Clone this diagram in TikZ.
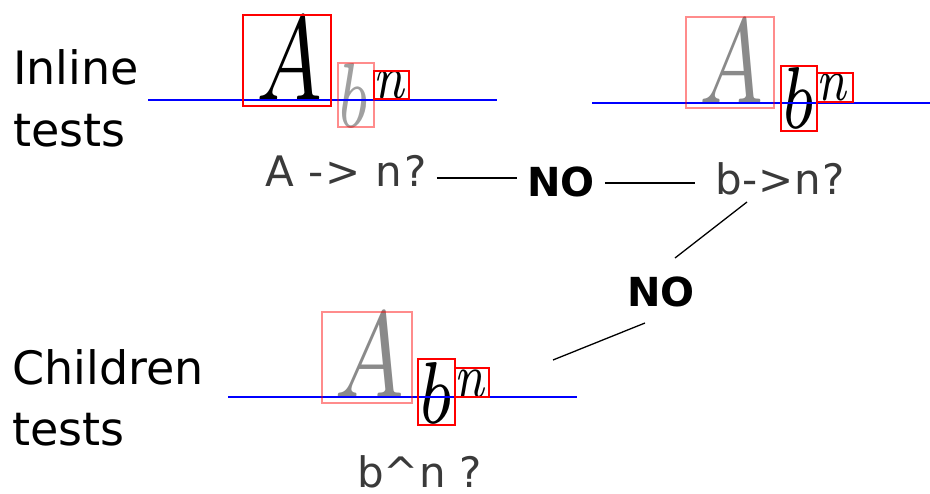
\documentclass[tikz,border=0pt]{standalone}
\usepackage{fontspec}
\setmainfont{DejaVu Sans}
\usetikzlibrary{calc}
\definecolor{txtgray}{HTML}{3A3A3A}
\definecolor{glyphgray}{HTML}{8A8A8A}
\definecolor{lightglyph}{HTML}{A0A0A0}
\newcommand{\gly}[3]{\resizebox{#1pt}{#2pt}{\fontsize{7}{8}\selectfont$#3$}}
\tikzset{
  lbl/.style={anchor=base west, inner sep=0pt, font=\fontsize{46}{46}\selectfont},
  qtxt/.style={anchor=base west, inner sep=0pt, text=txtgray, font=\fontsize{42}{42}\selectfont},
  notxt/.style={anchor=base west, inner sep=0pt, font=\fontsize{40}{40}\selectfont\bfseries},
  glyph/.style={inner sep=0pt},
  baseline line/.style={draw=blue, line width=2.2pt},
  redbox/.style={draw=red, line width=2pt},
  palebox/.style={draw=red, draw opacity=0.45, line width=2pt},
  conn/.style={draw=black, line width=1.3pt}
}
\begin{document}
\begin{tikzpicture}[x=1pt,y=-1pt]
\useasboundingbox (0,0) rectangle (930,494);

% labels
\node[lbl] (inl1) at (13,85) {Inline};
\node[lbl] (inl2) at (13,147) {tests};
\node[lbl] (ch1) at (12,385) {Children};
\node[lbl] (ch2) at (12,446) {tests};

% ---- top-left glyph group
\node[glyph, text=black] (tlA) at (289.5,58.5) {\gly{68}{83}{A}};
\node[glyph, text=lightglyph] (tlb) at (354,95) {\gly{30}{64}{b}};
\node[glyph, text=black] (tln) at (391.5,85.5) {\gly{32}{27}{n}};
\draw[baseline line] (148,100) -- (497,100);
\draw[redbox] (243,15) rectangle (331,106);
\draw[palebox] (338,63) rectangle (374,127);
\draw[redbox] (374,71) rectangle (409,99);

% ---- top-right glyph group
\node[glyph, text=glyphgray] (trA) at (731.5,61.5) {\gly{66}{83}{A}};
\node[glyph, text=black] (trb) at (798,97.5) {\gly{32}{61}{b}};
\node[glyph, text=black] (trn) at (834,88) {\gly{31}{26}{n}};
\draw[baseline line] (592,103) -- (930,103);
\draw[palebox] (686,17) rectangle (774,108);
\draw[redbox] (781,66) rectangle (817,131);
\draw[redbox] (817,73) rectangle (853,102);

% ---- bottom glyph group
\node[glyph, text=glyphgray] (bA) at (370,355) {\gly{72}{84}{A}};
\node[glyph, text=black] (bb) at (436,392.5) {\gly{33}{61}{b}};
\node[glyph, text=black] (bn2) at (472.5,383.5) {\gly{31}{27}{n}};
\draw[baseline line] (228,397) -- (577,397);
\draw[palebox] (322,312) rectangle (412,403);
\draw[redbox] (418,359) rectangle (455,425);
\draw[redbox] (455,368) rectangle (489,397);

% ---- questions and answers
\node[qtxt] (an) at (265,187) {\addfontfeatures{LetterSpace=4}A -> n?};
\node[notxt] (no1) at (527,197) {NO};
\node[qtxt] (bn) at (715,195) {\addfontfeatures{LetterSpace=2}b->n?};
\node[notxt] (no2) at (627,307) {NO};
\node[qtxt] (bnq) at (357,488) {b\string^n ?};
\coordinate (cend) at (553,360);

% connectors
\draw[conn] ($(an.base east)+(10,-9)$) -- ($(no1.base west)+(-10,-19)$);
\draw[conn] ($(no1.base east)+(10,-14)$) -- ($(bn.base west)+(-20,-12)$);
\draw[conn] ($(bn.base west)+(32,7)$) -- ($(no2.base west)+(48,-49)$);
\draw[conn] ($(no2.base west)+(18,16)$) -- (cend);
\end{tikzpicture}
\end{document}
